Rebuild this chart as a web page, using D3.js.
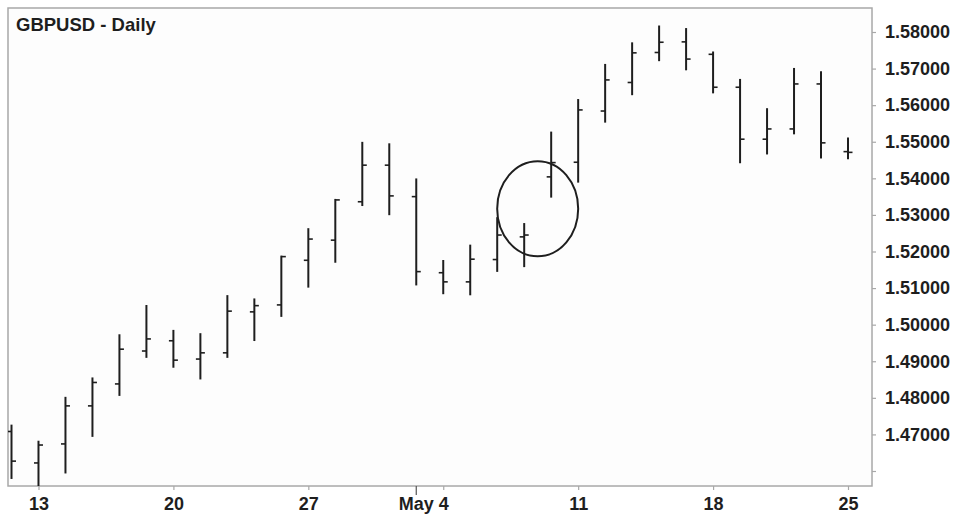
<!DOCTYPE html>
<html>
<head>
<meta charset="utf-8">
<script src="https://cdn.jsdelivr.net/npm/d3@7"></script>
<style>
  body { margin: 0; background: #fff; }
  svg { display: block; font-family: "Liberation Sans", Arial, sans-serif; }
</style>
</head>
<body>
<svg id="chart" width="961" height="514"></svg>
<script>
// GBPUSD daily OHLC, Apr 10 - May 25
const dates = ['Apr 10', 'Apr 13', 'Apr 14', 'Apr 15', 'Apr 16', 'Apr 17',
  'Apr 20', 'Apr 21', 'Apr 22', 'Apr 23', 'Apr 24',
  'Apr 27', 'Apr 28', 'Apr 29', 'Apr 30', 'May 1',
  'May 4', 'May 5', 'May 6', 'May 7', 'May 8',
  'May 11', 'May 12', 'May 13', 'May 14', 'May 15',
  'May 18', 'May 19', 'May 20', 'May 21', 'May 22', 'May 25'];

const opens = [1.4708, 1.4622, 1.4674, 1.4778, 1.4838, 1.4928,
  1.4956, 1.4906, 1.4923, 1.5035, 1.5054,
  1.5176, 1.5231, 1.5336, 1.5436, 1.5350,
  1.5142, 1.5117, 1.5178, 1.5240, 1.5404,
  1.5444, 1.5584, 1.5662, 1.5744, 1.5773,
  1.5739, 1.5649, 1.5507, 1.5535, 1.5658, 1.5473];
const highs = [1.4724, 1.4680, 1.4800, 1.4853, 1.4971, 1.5051,
  1.4983, 1.4974, 1.5078, 1.5069, 1.5186,
  1.5261, 1.5341, 1.5497, 1.5493, 1.5397,
  1.5174, 1.5216, 1.5291, 1.5275, 1.5525,
  1.5614, 1.5710, 1.5769, 1.5815, 1.5808,
  1.5744, 1.5669, 1.5589, 1.5699, 1.5690, 1.5509];
const lows = [1.4581, 1.4552, 1.4596, 1.4696, 1.4808, 1.4912,
  1.4885, 1.4853, 1.4912, 1.4958, 1.5024,
  1.5104, 1.5172, 1.5327, 1.5302, 1.5110,
  1.5086, 1.5083, 1.5147, 1.5160, 1.5350,
  1.5391, 1.5555, 1.5630, 1.5723, 1.5698,
  1.5635, 1.5444, 1.5468, 1.5523, 1.5457, 1.5455];
const closes = [1.4627, 1.4671, 1.4778, 1.4842, 1.4933, 1.4961,
  1.4903, 1.4923, 1.5037, 1.5052, 1.5186,
  1.5234, 1.5341, 1.5436, 1.5352, 1.5145,
  1.5117, 1.5179, 1.5245, 1.5245, 1.5443,
  1.5587, 1.5669, 1.5743, 1.5772, 1.5726,
  1.5649, 1.5507, 1.5535, 1.5658, 1.5497, 1.5471];

const x_tick_dates = ['Apr 13', 'Apr 20', 'Apr 27', 'May 4', 'May 11', 'May 18', 'May 25'];
const x_tick_labels = ['13', '20', '27', '4', '11', '18', '25'];
const month_date = 'May 1';
const month_label = 'May';

const y_tick_values = [1.46, 1.47, 1.48, 1.49, 1.50, 1.51, 1.52, 1.53, 1.54, 1.55, 1.56, 1.57, 1.58];
const title = 'GBPUSD - Daily';

// highlighted area (circle annotation) between May 7 and May 8
const note_dates = ['May 7', 'May 8'];
const note_price = 1.5317;

// layout
const plot_left = 8;
const plot_top = 8;
const plot_right = 872;
const plot_bottom = 486;
const ink = '#1e1e1e';
const frame_color = '#a8a8a8';
const label_size = '18px';

let svg = d3.select('#chart');

let x_scale = d3.scalePoint()
  .domain(dates)
  .range([11.5, 848]);

let y_scale = d3.scaleLinear()
  .domain([1.46, 1.58])
  .range([471, 32]);

// background + frame
svg.append('rect')
  .attr('x', plot_left).attr('y', plot_top)
  .attr('width', plot_right - plot_left).attr('height', plot_bottom - plot_top)
  .attr('fill', '#fdfdfd')
  .attr('stroke', frame_color)
  .attr('stroke-width', 1.5);

svg.append('clipPath').attr('id', 'plot_clip')
  .append('rect')
  .attr('x', plot_left).attr('y', plot_top)
  .attr('width', plot_right - plot_left).attr('height', plot_bottom - plot_top);

// y axis (right)
let y_axis = d3.axisRight(y_scale)
  .tickValues(y_tick_values)
  .tickSize(4)
  .tickPadding(9)
  .tickFormat(d => d < 1.465 ? '' : d3.format('.5f')(d));

let gy = svg.append('g')
  .attr('transform', `translate(${plot_right}, 0)`)
  .call(y_axis);
gy.select('.domain').remove();
gy.selectAll('line').attr('stroke', frame_color).attr('stroke-width', 1.2);
gy.selectAll('text')
  .style('font-size', label_size)
  .style('font-weight', 'bold')
  .attr('fill', ink);

// x axis (bottom)
let x_axis = d3.axisBottom(x_scale)
  .tickValues(x_tick_dates)
  .tickSize(4)
  .tickPadding(7)
  .tickFormat((d, i) => x_tick_labels[i]);

let gx = svg.append('g')
  .attr('transform', `translate(0, ${plot_bottom})`)
  .call(x_axis);
gx.select('.domain').remove();
gx.selectAll('line').attr('stroke', frame_color).attr('stroke-width', 1.2);
gx.selectAll('text')
  .style('font-size', label_size)
  .style('font-weight', 'bold')
  .attr('fill', ink);

// month marker
let gm = svg.append('g')
  .attr('transform', `translate(${x_scale(month_date)}, ${plot_bottom})`);
gm.append('line')
  .attr('y1', 0).attr('y2', 9)
  .attr('stroke', '#555').attr('stroke-width', 1.2);
gm.append('text')
  .attr('y', 11).attr('dy', '0.71em')
  .attr('text-anchor', 'middle')
  .style('font-size', label_size)
  .style('font-weight', 'bold')
  .attr('fill', ink)
  .text(month_label);

// OHLC bars
let bars = svg.append('g')
  .attr('clip-path', 'url(#plot_clip)')
  .attr('stroke', ink)
  .attr('stroke-width', 2)
  .selectAll('g')
  .data(dates)
  .enter()
  .append('g');

bars.append('line')
  .attr('x1', d => x_scale(d)).attr('x2', d => x_scale(d))
  .attr('y1', (d, i) => y_scale(highs[i]) - 1)
  .attr('y2', (d, i) => y_scale(lows[i]) + 1);

bars.append('line')
  .attr('x1', d => x_scale(d) - 4.5).attr('x2', d => x_scale(d))
  .attr('y1', (d, i) => y_scale(opens[i]))
  .attr('y2', (d, i) => y_scale(opens[i]))
  .attr('stroke-width', 1.6);

bars.append('line')
  .attr('x1', d => x_scale(d)).attr('x2', d => x_scale(d) + 4.5)
  .attr('y1', (d, i) => y_scale(closes[i]))
  .attr('y2', (d, i) => y_scale(closes[i]))
  .attr('stroke-width', 1.6);

// annotation circle
let note_x = (x_scale(note_dates[0]) + x_scale(note_dates[1])) / 2;
svg.append('ellipse')
  .attr('cx', note_x)
  .attr('cy', y_scale(note_price))
  .attr('rx', 40.5)
  .attr('ry', 47.5)
  .attr('fill', 'none')
  .attr('stroke', ink)
  .attr('stroke-width', 2);

// title
svg.append('text')
  .attr('x', 16)
  .attr('y', 31)
  .style('font-size', '18.5px')
  .style('font-weight', 'bold')
  .attr('fill', ink)
  .text(title);
</script>
</body>
</html>
